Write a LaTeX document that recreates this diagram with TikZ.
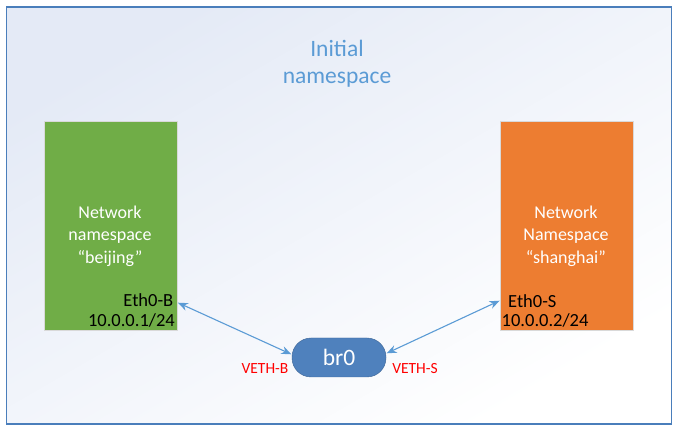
\documentclass[tikz,border=0pt]{standalone}
\usepackage{fontspec}
\setmainfont{Carlito}
\usetikzlibrary{arrows.meta}
\definecolor{frameblue}{HTML}{4A7EBB}
\definecolor{titleblue}{HTML}{5B9BD5}
\definecolor{nsgreen}{HTML}{70AD47}
\definecolor{nsorange}{HTML}{ED7D31}
\definecolor{brblue}{HTML}{4F81BD}
\definecolor{bglight}{HTML}{E4EAF6}
\tikzset{
  nsbox/.style={draw=black!15, line width=0.6pt, minimum width=133pt, minimum height=209pt, inner sep=0pt},
  nstext/.style={text=white, font=\fontsize{18}{22.5}\selectfont, align=center},
  iftext/.style={text=black, font=\fontsize{18.5}{22}\selectfont, inner sep=0pt},
  vethlabel/.style={text=red, font=\fontsize{15.5}{18}\selectfont, inner sep=0pt},
  link/.style={draw=titleblue, line width=1.1pt, {Stealth[length=10pt,width=8pt]}-{Stealth[length=10pt,width=8pt]}, shorten >=0.5pt, shorten <=0.5pt}
}
\begin{document}
\begin{tikzpicture}[x=1pt,y=-1pt]
\useasboundingbox (0,0) rectangle (678,430);
% background frame
\shade[shading=axis, top color=bglight, bottom color=white, shading angle=30] (6.5,7) rectangle (671.5,424);
\draw[frameblue, line width=1.3pt] (6.5,7) rectangle (671.5,424);
% title
\node[text=titleblue, font=\fontsize{23.5}{27}\selectfont, align=center] (title) at (337,63.5) {Initial\\namespace};
% namespaces
\node[nsbox, fill=nsgreen] (bj) at (110.5,225.5) {};
\node[nsbox, fill=nsorange] (sh) at (566.5,225.5) {};
\node[nstext] (bjt) at (110,236) {Network\\namespace\\“beijing”};
\node[nstext] (sht) at (566,236) {Network\\Namespace\\“shanghai”};
% interfaces
\node[iftext, anchor=base east] (ethb) at (173.5,306.5) {Eth0-B};
\node[iftext, anchor=base east] (ipb) at (175,327) {10.0.0.1/24};
\node[iftext, anchor=base west] (eths) at (508,308) {Eth0-S};
\node[iftext, anchor=base west] (ips) at (501.5,327) {10.0.0.2/24};
% bridge
\node[rectangle, rounded corners=19pt, fill=brblue, draw=brblue!80!black, line width=0.4pt, minimum width=94pt, minimum height=39pt, text=white, font=\fontsize{23.5}{26}\selectfont] (br) at (339,357.5) {br0};
\node[vethlabel, anchor=base] (vb) at (265,373.5) {VETH-B};
\node[vethlabel, anchor=base] (vs) at (415,373.5) {VETH-S};
% links
\coordinate (pb) at (177.5,302.5);
\coordinate (ps) at (500,300.5);
\draw[link] (pb) -- ([yshift=3pt]br.west);
\draw[link] (ps) -- ([yshift=4pt]br.east);
\end{tikzpicture}
\end{document}
